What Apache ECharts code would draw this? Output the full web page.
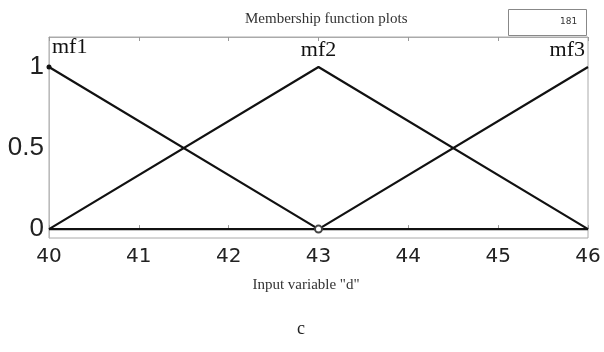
<!DOCTYPE html>
<html><head><meta charset="utf-8">
<script src="https://cdn.jsdelivr.net/npm/echarts@6/dist/echarts.min.js"></script>
<style>html,body{margin:0;padding:0;background:#fff}#c{width:604px;height:352px}</style>
</head><body><div id="c"></div>
<script>
const xValues = [40, 43, 46];
const mf1 = [1, 0, 0];
const mf2 = [0, 1, 0];
const mf3 = [0, 0, 1];
const mfNames = ['mf1', 'mf2', 'mf3'];
const xTicks = [40, 41, 42, 43, 44, 45, 46];
const yTicks = [0, 0.5, 1];
const titleText = 'Membership function plots';
const xName = 'Input variable "d"';
const boxText = '181';
const caption = 'c';

const chart = echarts.init(document.getElementById('c'));
function mk(vals, name, labelIdx, align, dx) {
  return {
    type: 'line', name: name,
    data: vals.map((v, i) => {
      const d = { value: [xValues[i], v] };
      if (i === labelIdx) {
        d.label = { show: true, formatter: name, position: 'top', align: align,
          offset: [dx, -1], fontFamily: 'Liberation Serif', fontSize: 22, color: '#111' };
      }
      return d;
    }),
    lineStyle: { color: '#111', width: 2.2 },
    symbol: 'circle', symbolSize: 0, showAllSymbol: true, silent: true, z: 3
  };
}
const s1 = mk(mf1, mfNames[0], 0, 'left', 3);
s1.symbolSize = (v) => (v[0] === 40 ? 5 : 0); s1.itemStyle = { color: '#111' };
const s2 = mk(mf2, mfNames[1], 1, 'center', 0);
s2.itemStyle = { color: '#111' };
const s3 = mk(mf3, mfNames[2], 2, 'right', -3);
s3.symbol = 'emptyCircle'; s3.symbolSize = (v) => (v[0] === 43 ? 7 : 0); s3.itemStyle = { color: '#444', borderWidth: 1 };

chart.setOption({
  animation: false,
  title: { text: titleText, left: 240, top: 7,
    textStyle: { fontFamily: 'Liberation Serif', fontSize: 15, fontWeight: 'normal', color: '#333' } },
  grid: { left: 49, right: 16, top: 37, bottom: 114, show: true, borderColor: '#aaa', borderWidth: 1 },
  xAxis: [{
    type: 'value', min: 40, max: 46, interval: 1,
    axisLine: { show: true, lineStyle: { color: '#bbb' } },
    axisTick: { show: true, inside: true, length: 4, lineStyle: { color: '#999' } },
    axisLabel: { fontFamily: 'DejaVu Sans', fontSize: 20, color: '#222', margin: 9 },
    splitLine: { show: false },
    name: xName, nameLocation: 'middle', nameGap: 40,
    nameTextStyle: { fontFamily: 'Liberation Serif', fontSize: 15, color: '#333', padding: [0, 25, 0, 0] }
  }, {
    type: 'value', min: 40, max: 46, interval: 1, position: 'top',
    axisLine: { show: true, lineStyle: { color: '#aaa' } },
    axisTick: { show: true, inside: true, length: 4, lineStyle: { color: '#999' } },
    axisLabel: { show: false }, splitLine: { show: false }
  }],
  yAxis: {
    type: 'value', min: -0.055, max: 1.185,
    axisLine: { show: true, lineStyle: { color: '#bbb' } },
    axisTick: { show: false },
    axisLabel: { customValues: yTicks, formatter: v => String(v), fontFamily: 'Liberation Sans', fontSize: 26, color: '#222', margin: 5 },
    splitLine: { show: false }
  },
  graphic: [
    { type: 'rect', left: 508, top: 9, shape: { width: 78, height: 26 },
      style: { fill: '#fff', stroke: '#888', lineWidth: 1 } },
    { type: 'text', left: 560, top: 17, style: { text: boxText, fontFamily: 'DejaVu Sans', fontSize: 9, fill: '#333' } },
    { type: 'text', left: 297, top: 320, style: { text: caption, fontFamily: 'Liberation Serif', fontSize: 18, fill: '#222' } }
  ],
  series: [s1, s2, s3]
});
</script></body></html>
